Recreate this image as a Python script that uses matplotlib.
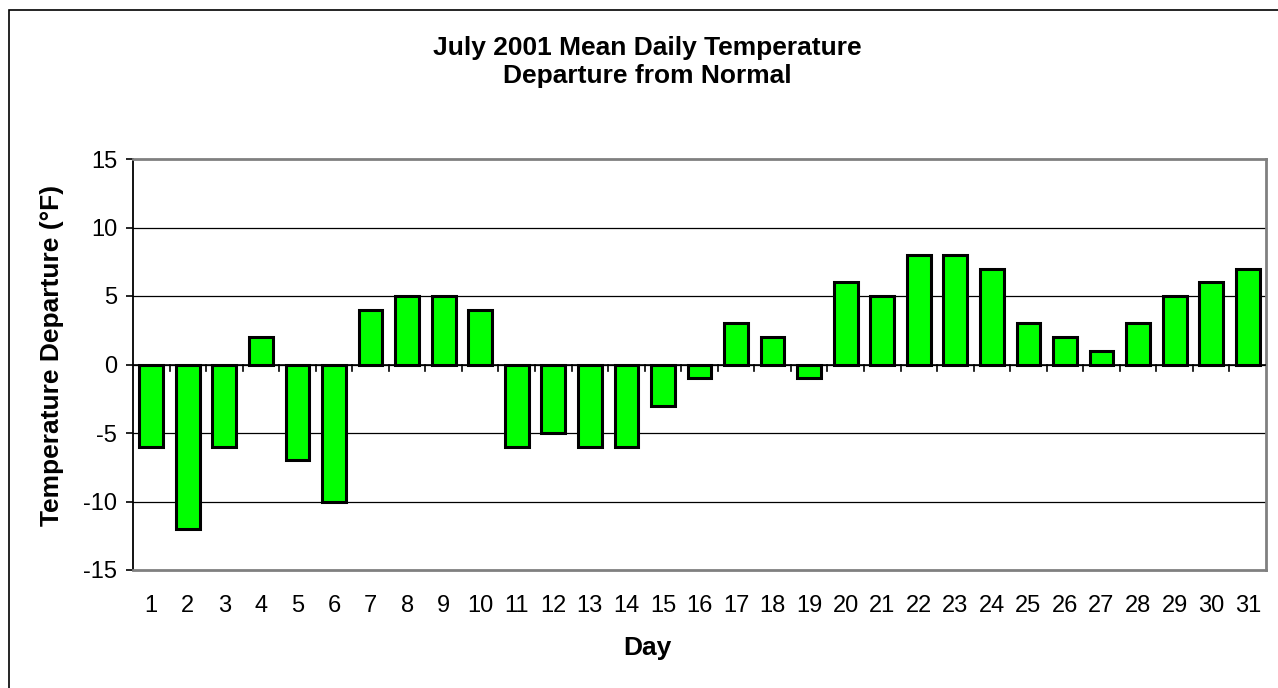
import matplotlib
matplotlib.use("Agg")
import matplotlib.pyplot as plt
from matplotlib.patches import Rectangle

days = [str(d) for d in range(1, 32)]
departure = [-6, -12, -6, 2, -7, -10, 4, 5, 5, 4, -6, -5, -6, -6, -3, -1, 3, 2, -1,
             6, 5, 8, 8, 7, 3, 2, 1, 3, 5, 6, 7]
yticks = [-15, -10, -5, 0, 5, 10, 15]

plt.rcParams['font.family'] = ['Liberation Sans', 'DejaVu Sans']

W, H = 1278, 688
fig = plt.figure(figsize=(W / 100, H / 100), dpi=100)
fig.patch.set_facecolor('white')
fig.patches.append(Rectangle((9 / W, -0.05), 1.1, 1 - 10 / H + 0.05, transform=fig.transFigure,
                             fill=False, edgecolor='black', linewidth=1.2, zorder=0))

left, right, top, bottom = 133, 1266, 159, 570
ax = fig.add_axes([left / W, 1 - bottom / H, (right - left) / W, (bottom - top) / H])

x = list(range(len(days)))
ax.bar(x, departure, width=0.65, color='#00ff00', edgecolor='black', linewidth=2.2, zorder=3)

ax.set_xlim(-0.5, len(days) - 0.5)
ax.set_ylim(-15, 15)
ax.set_yticks(yticks)
ax.set_yticklabels([str(v) for v in yticks], fontsize=17)
for v in yticks[1:-1]:
    ax.axhline(v, color='black', linewidth=0.9, zorder=1)
ax.axhline(0, color='black', linewidth=1.2, zorder=4)

ax.set_xticks(x)
ax.set_xticklabels(days, fontsize=17)
ax.tick_params(axis='x', length=0, pad=18)
ax.tick_params(axis='y', length=5, width=1.2, pad=6.5)
for b in range(1, len(days)):
    ax.plot([b - 0.5, b - 0.5], [0, -0.45], color='black', linewidth=1.2, zorder=4, clip_on=False)

for s in ['top', 'right', 'bottom']:
    ax.spines[s].set_color('#808080')
    ax.spines[s].set_linewidth(2)
ax.spines['left'].set_color('black')
ax.spines['left'].set_linewidth(1.3)

fig.text(647 / W, 1 - 655 / H, 'Day', ha='center', va='baseline', fontsize=19, fontweight='bold')
fig.text(52 / W, 1 - 355 / H, 'Temperature Departure (°F)', ha='center', va='center',
         rotation=90, fontsize=19, fontweight='bold')

fig.text(647 / W, 1 - 55 / H, 'July 2001 Mean Daily Temperature',
         ha='center', va='baseline', fontsize=19, fontweight='bold')
fig.text(647 / W, 1 - 83 / H, 'Departure from Normal',
         ha='center', va='baseline', fontsize=19, fontweight='bold')

fig.savefig('out.png', dpi=100)
